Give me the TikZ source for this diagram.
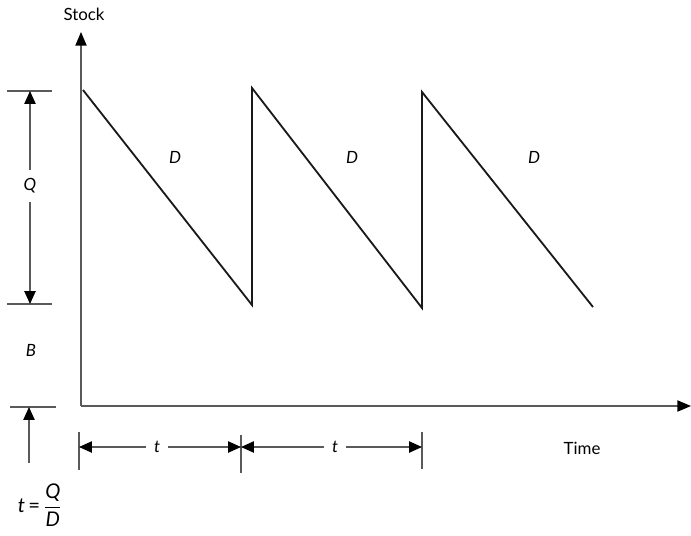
\documentclass[tikz,border=0pt]{standalone}
\usepackage{fontspec}
\setmainfont{Lato}
\usetikzlibrary{arrows.meta, positioning}
\definecolor{caxis}{HTML}{5A5A5A}
\definecolor{cline}{HTML}{1A1A1A}
\tikzset{
  every picture/.style={font=\normalsize, line width=0.8pt},
  axis/.style={-{Triangle[length=3.4mm, width=2.8mm, color=black]}, draw=caxis, line width=0.9pt},
  dim/.style={-{Triangle[length=3.2mm, width=2.8mm, color=black]}, draw=caxis, line width=0.9pt},
  tick/.style={draw=caxis, line width=0.9pt},
  saw/.style={draw=cline, line width=1.3pt, line join=miter},
  lbl/.style={inner sep=2pt, font=\large},
}
\begin{document}
\begin{tikzpicture}[x=0.025cm, y=-0.025cm]
  \useasboundingbox (0,0) rectangle (691,535);
  % axes
  \coordinate (o) at (81,406);
  \coordinate (ytop) at (81,32);
  \coordinate (xend) at (691,406);
  \draw[axis] (o) -- (ytop);
  \draw[axis] (o) -- (xend);
  \node[lbl] (stock) at (84,14) {Stock};
  \node[lbl] (time) at (582,448) {Time};
  % stock curve
  \coordinate (p0) at (83,90);
  \coordinate (p1) at (252,305);
  \coordinate (p2) at (252,88);
  \coordinate (p3) at (422,308);
  \coordinate (p4) at (422,92);
  \coordinate (p5) at (593,307);
  \draw[saw] (p0) -- (p1) -- (p2) -- (p3) -- (p4) -- (p5);
  \node[lbl] (d1) at (175,157) {\itshape D};
  \node[lbl] (d2) at (352,157) {\itshape D};
  \node[lbl] (d3) at (534,157) {\itshape D};
  % Q and B on the left
  \draw[tick] (7,91) coordinate (qtopl) -- (52,91) coordinate (qtopr);
  \draw[tick] (7,304) coordinate (qbotl) -- (52,304) coordinate (qbotr);
  \draw[tick] (10,407) coordinate (bbotl) -- (56,407) coordinate (bbotr);
  \coordinate (qtop) at (30,91);
  \coordinate (qbot) at (30,304);
  \node[lbl, inner sep=6pt] (q) at (30,186) {\itshape Q};
  \draw[dim] (q) -- (qtop);
  \draw[dim] (q) -- (qbot);
  \node[lbl] (b) at (31,350) {\itshape B};
  \coordinate (bup) at (29,463);
  \coordinate (bbot) at (29,407);
  \draw[dim] (bup) -- (bbot);
  \node[lbl, font=\Large] (tqd) at (40,505) {\itshape t\,\upshape=\,$\displaystyle\frac{\textit{Q}}{\textit{D}}$};
  % time intervals
  \draw[tick] (79,432) coordinate (ka) -- (79,470);
  \draw[tick] (241,435) coordinate (kb) -- (241,473);
  \draw[tick] (422,432) coordinate (kc) -- (422,469);
  \coordinate (ta) at (79,447);
  \coordinate (tb) at (241,447);
  \coordinate (tc) at (422,447);
  \node[lbl, inner sep=5pt] (t1) at (157,447) {\itshape t};
  \node[lbl, inner sep=5pt] (t2) at (335,447) {\itshape t};
  \draw[dim] (t1) -- (ta);
  \draw[dim] (t1) -- (tb);
  \draw[dim] (t2) -- (tb);
  \draw[dim] (t2) -- (tc);
\end{tikzpicture}
\end{document}
